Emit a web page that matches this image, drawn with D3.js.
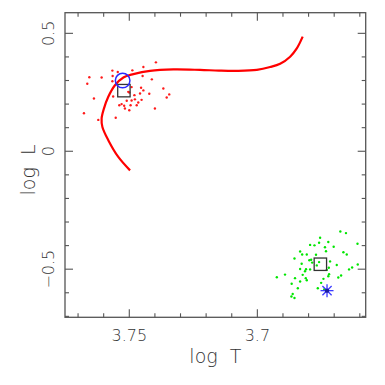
<!DOCTYPE html>
<html lang="en">
<head>
<meta charset="UTF-8" />
<title>HR diagram</title>
<script src="https://d3js.org/d3.v7.min.js"></script>
<style>
  body { margin: 0; background: #fff; }
  text { font-family: "DejaVu Sans", sans-serif; font-weight: 200; fill: #333; }
</style>
</head>
<body>
<div id="chart"></div>
<script>
    var w = 385;
    var h = 385;
    var plotLeft = 65, plotRight = 365.7, plotTop = 12.7, plotBottom = 317.3;

    // evolutionary track (log T, log L)
    var trackT = [3.7497, 3.7543, 3.7582, 3.7605, 3.7608, 3.7599, 3.7582, 3.7556, 3.7523, 3.7484, 3.7419,
        3.7328, 3.7224, 3.7150, 3.7080, 3.7002, 3.6950, 3.6911, 3.6872, 3.6846, 3.6823];
    var trackL = [-0.081, -0.024, 0.047, 0.103, 0.139, 0.181, 0.231, 0.280, 0.313, 0.327, 0.341,
        0.347, 0.345, 0.342, 0.341, 0.345, 0.357, 0.371, 0.401, 0.436, 0.486];

    // red sample
    var redT = [3.7396, 3.7445, 3.7488, 3.7545, 3.7565, 3.7656, 3.7608, 3.7448, 3.7412, 3.7664, 3.7566,
        3.7491, 3.7454, 3.7445, 3.7367, 3.7422, 3.7344, 3.7354, 3.7638, 3.7563, 3.7480, 3.7491, 3.7478,
        3.7500, 3.7539, 3.7520, 3.7517, 3.7495, 3.7500, 3.7400, 3.7677, 3.7621, 3.7553, 3.7465, 3.7452,
        3.7510, 3.7471, 3.7530, 3.7504, 3.7566, 3.7458];
    var redL = [0.377, 0.357, 0.343, 0.336, 0.319, 0.314, 0.313, 0.319, 0.305, 0.286, 0.297,
        0.272, 0.269, 0.258, 0.266, 0.244, 0.241, 0.228, 0.224, 0.232, 0.238, 0.215, 0.220,
        0.249, 0.195, 0.193, 0.181, 0.195, 0.174, 0.181, 0.161, 0.133, 0.142, 0.207, 0.218,
        0.214, 0.195, 0.200, 0.252, 0.342, 0.245];

    // green sample
    var greenT = [3.6676, 3.6654, 3.6755, 3.6723, 3.6759, 3.6609, 3.6794, 3.6777, 3.6702, 3.6732, 3.6833,
        3.6664, 3.6651, 3.6825, 3.6807, 3.6855, 3.6797, 3.6759, 3.6716, 3.6827, 3.6768, 3.6690, 3.6608,
        3.6630, 3.6642, 3.6721, 3.6729, 3.6833, 3.6810, 3.6794, 3.6814, 3.6892, 3.6924, 3.6823, 3.6720,
        3.6723, 3.6673, 3.6684, 3.6853, 3.6811, 3.6807, 3.6833, 3.6742, 3.6842, 3.6764, 3.6751, 3.6862,
        3.6867, 3.6855, 3.6771, 3.6790, 3.6786, 3.6739, 3.6736, 3.6866];
    var greenL = [-0.340, -0.347, -0.367, -0.385, -0.388, -0.392, -0.397, -0.399, -0.405, -0.424, -0.425,
        -0.428, -0.438, -0.438, -0.438, -0.455, -0.462, -0.470, -0.467, -0.477, -0.484, -0.482, -0.480,
        -0.493, -0.501, -0.494, -0.503, -0.499, -0.500, -0.501, -0.509, -0.523, -0.534, -0.524, -0.521,
        -0.530, -0.527, -0.535, -0.538, -0.538, -0.547, -0.552, -0.541, -0.581, -0.581, -0.558, -0.605,
        -0.616, -0.622, -0.439, -0.460, -0.472, -0.586, -0.407, -0.562];

    // special markers
    var squares = [[3.7521, 0.257], [3.6754, -0.479]];
    var circlePt = [3.7526, 0.300];
    var starPt = [3.6728, -0.591];

    // axis ticks
    var xMajor = [3.75, 3.7];
    var xLabels = ["3.75", "3.7"];
    var xMinor = [3.77, 3.76, 3.74, 3.73, 3.72, 3.71, 3.69, 3.68, 3.67, 3.66];
    var yMajor = [0.5, 0, -0.5];
    var yLabels = ["0.5", "0", "\u22120.5"];
    var yMinor = [0.4, 0.3, 0.2, 0.1, -0.1, -0.2, -0.3, -0.4, -0.6, -0.7];

    var svg = d3.select("#chart")
        .append("svg")
        .attr("width", w)
        .attr("height", h);

    var xScale = d3.scaleLinear().domain([3.7751, 3.6577]).range([plotLeft, plotRight]);
    var yScale = d3.scaleLinear().domain([0.5875, -0.704]).range([plotTop, plotBottom]);

    var axisColor = "#555";

    // frame
    svg.append("rect")
        .attr("x", plotLeft).attr("y", plotTop)
        .attr("width", plotRight - plotLeft).attr("height", plotBottom - plotTop)
        .attr("fill", "none")
        .attr("stroke", axisColor)
        .attr("stroke-width", 1.3);

    // inward ticks on all four sides
    function xTicks(vals, len) {
        vals.forEach(function (v) {
            var x = xScale(v);
            svg.append("line").attr("x1", x).attr("x2", x).attr("y1", plotBottom).attr("y2", plotBottom - len)
                .attr("stroke", axisColor).attr("stroke-width", 1.1);
            svg.append("line").attr("x1", x).attr("x2", x).attr("y1", plotTop).attr("y2", plotTop + len)
                .attr("stroke", axisColor).attr("stroke-width", 1.1);
        });
    }
    function yTicks(vals, len) {
        vals.forEach(function (v) {
            var y = yScale(v);
            svg.append("line").attr("x1", plotLeft).attr("x2", plotLeft + len).attr("y1", y).attr("y2", y)
                .attr("stroke", axisColor).attr("stroke-width", 1.1);
            svg.append("line").attr("x1", plotRight).attr("x2", plotRight - len).attr("y1", y).attr("y2", y)
                .attr("stroke", axisColor).attr("stroke-width", 1.1);
        });
    }
    xTicks(xMajor, 8);
    xTicks(xMinor, 4);
    yTicks(yMajor, 8);
    yTicks(yMinor, 4);

    // tick labels
    xMajor.forEach(function (v, i) {
        svg.append("text")
            .attr("x", xScale(v)).attr("y", 341)
            .attr("text-anchor", "middle")
            .style("font-size", "16px")
            .text(xLabels[i]);
    });
    yMajor.forEach(function (v, i) {
        svg.append("text")
            .attr("transform", "translate(53.5," + yScale(v) + ") rotate(-90)")
            .attr("text-anchor", "middle")
            .style("font-size", "16px")
            .text(yLabels[i]);
    });

    // axis titles
    svg.append("text")
        .attr("x", (plotLeft + plotRight) / 2).attr("y", 362.5)
        .attr("text-anchor", "middle")
        .style("font-size", "19px")
        .style("word-spacing", "6px")
        .text("log T");
    svg.append("text")
        .attr("transform", "translate(34.5,170) rotate(-90)")
        .attr("text-anchor", "middle")
        .style("font-size", "19px")
        .style("word-spacing", "6px")
        .text("log L");

    // scatter points
    var greenData = greenT.map(function (t, i) { return [t, greenL[i]]; });
    var redData = redT.map(function (t, i) { return [t, redL[i]]; });

    svg.selectAll(".g").data(greenData).enter().append("circle")
        .attr("cx", function (d) { return xScale(d[0]); })
        .attr("cy", function (d) { return yScale(d[1]); })
        .attr("r", 1.2)
        .attr("fill", "#00e600");

    svg.selectAll(".r").data(redData).enter().append("circle")
        .attr("cx", function (d) { return xScale(d[0]); })
        .attr("cy", function (d) { return yScale(d[1]); })
        .attr("r", 1.2)
        .attr("fill", "#ff1a1a");

    // track
    var trackData = trackT.map(function (t, i) { return [t, trackL[i]]; });
    var line = d3.line()
        .x(function (d) { return xScale(d[0]); })
        .y(function (d) { return yScale(d[1]); })
        .curve(d3.curveCatmullRom.alpha(0.5));
    svg.append("path")
        .datum(trackData)
        .attr("fill", "none")
        .attr("stroke", "#ff0000")
        .attr("stroke-width", 2.2)
        .attr("d", line);

    // boxes
    svg.selectAll(".sq").data(squares).enter().append("rect")
        .attr("x", function (d) { return xScale(d[0]) - 6.2; })
        .attr("y", function (d) { return yScale(d[1]) - 6.2; })
        .attr("width", 12.4).attr("height", 12.4)
        .attr("fill", "none")
        .attr("stroke", "#333")
        .attr("stroke-width", 1.3);

    // blue circle
    svg.append("circle")
        .attr("cx", xScale(circlePt[0]))
        .attr("cy", yScale(circlePt[1]))
        .attr("r", 7.3)
        .attr("fill", "none")
        .attr("stroke", "#2a2aff")
        .attr("stroke-width", 1.5);

    // blue asterisk
    var sx = xScale(starPt[0]), sy = yScale(starPt[1]);
    [0, 45, 90, 135].forEach(function (a) {
        var r = 6.5, rad = a * Math.PI / 180;
        svg.append("line")
            .attr("x1", sx - r * Math.cos(rad)).attr("y1", sy - r * Math.sin(rad))
            .attr("x2", sx + r * Math.cos(rad)).attr("y2", sy + r * Math.sin(rad))
            .attr("stroke", "#3a3aff")
            .attr("stroke-width", 1.3);
    });
    svg.append("circle").attr("cx", sx).attr("cy", sy).attr("r", 2.2).attr("fill", "#1a1aa0");
</script>
</body>
</html>
